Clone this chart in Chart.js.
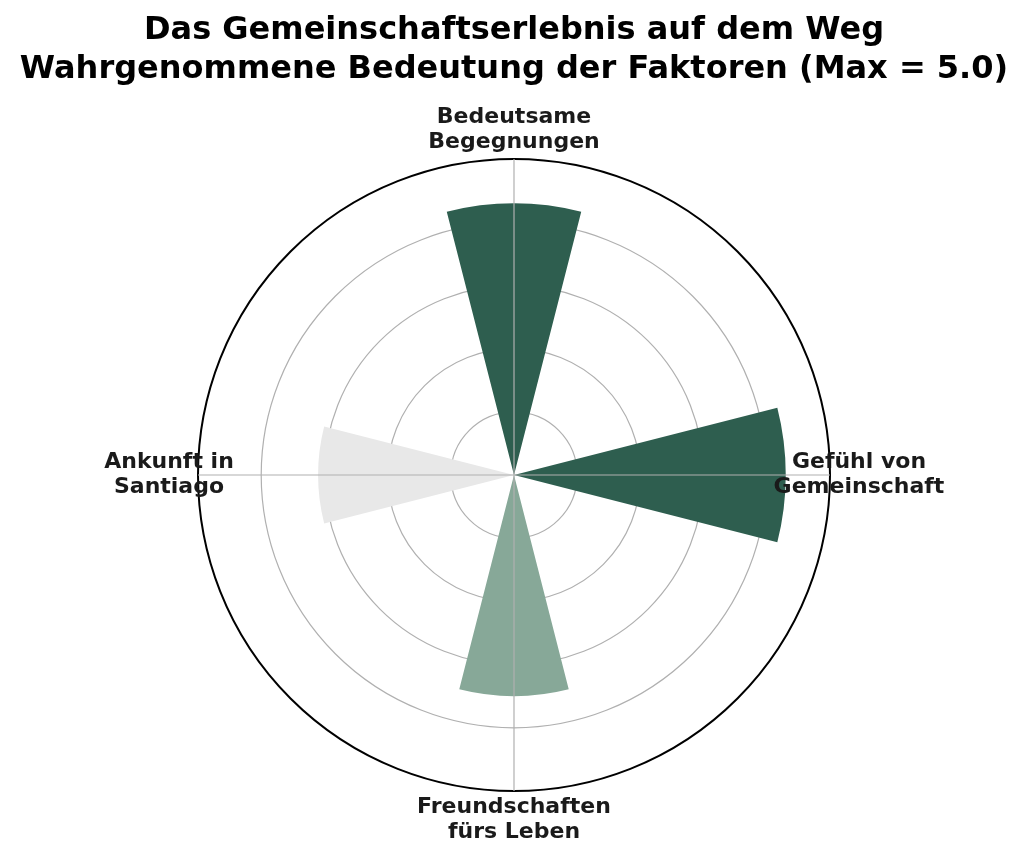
<!DOCTYPE html>
<html>
<head>
<meta charset="utf-8">
<script src="https://cdn.jsdelivr.net/npm/chart.js@4"></script>
<style>
  html, body { margin: 0; padding: 0; background: #fff; }
  #wrap { width: 1030px; height: 860px; }
</style>
</head>
<body>
<div id="wrap"><canvas id="myChart"></canvas></div>
<script>
// data
var categories = ['Bedeutsame Begegnungen', 'Gefühl von Gemeinschaft', 'Freundschaften fürs Leben', 'Ankunft in Santiago']
var labelLines = [['Bedeutsame', 'Begegnungen'], ['Gefühl von', 'Gemeinschaft'], ['Freundschaften', 'fürs Leben'], ['Ankunft in', 'Santiago']]
var values = [4.3, 4.3, 3.5, 3.1]
var barColors = ['#2e5e4f', '#2e5e4f', '#87a898', '#e8e8e8']
var rMax = 5
var tickStep = 1

// each bar is 0.5 rad wide, the rest of the quarter is empty
var barAngle = 0.5 * 180 / Math.PI
var gapAngle = 90 - barAngle

// build the polar area table: bar, empty, bar, empty ...
var chartLabels = [], chartValues = [], chartColors = []
categories.forEach(function (c, i) {
  chartLabels.push(c, '')
  chartValues.push(values[i], 0)
  chartColors.push(barColors[i], 'rgba(0,0,0,0)')
})

// spokes and category labels at the middle of each bar
var barLabels = {
  id: 'barLabels',
  afterDatasetsDraw: function (chart) {
    var ctx = chart.ctx
    var scale = chart.scales.r
    var meta = chart.getDatasetMeta(0)
    var outer = scale.getDistanceFromCenterForValue(rMax)
    ctx.save()
    ctx.strokeStyle = '#b0b0b0'
    ctx.lineWidth = 1.2
    categories.forEach(function (c, i) {
      var arc = meta.data[i * 2]
      var a = (arc.startAngle + arc.endAngle) / 2
      ctx.beginPath()
      ctx.moveTo(scale.xCenter, scale.yCenter)
      ctx.lineTo(scale.xCenter + Math.cos(a) * outer, scale.yCenter + Math.sin(a) * outer)
      ctx.stroke()
    })
    ctx.restore()
  },
  afterDraw: function (chart) {
    var ctx = chart.ctx
    var scale = chart.scales.r
    var meta = chart.getDatasetMeta(0)
    var dist = scale.getDistanceFromCenterForValue(rMax) + 29
    var lh = 25
    ctx.save()
    ctx.font = 'bold 22px "DejaVu Sans"'
    ctx.fillStyle = '#1a1a1a'
    ctx.textAlign = 'center'
    ctx.textBaseline = 'middle'
    labelLines.forEach(function (lines, i) {
      var arc = meta.data[i * 2]
      var a = (arc.startAngle + arc.endAngle) / 2
      var x = scale.xCenter + Math.cos(a) * dist
      var y = scale.yCenter + Math.sin(a) * dist
      var y0 = y - (lines.length - 1) * lh / 2
      lines.forEach(function (t, k) {
        ctx.fillText(t, x, y0 + k * lh)
      })
    })
    ctx.restore()
  }
}

var ctx = document.getElementById('myChart').getContext('2d')
var chart = new Chart(ctx, {
  type: 'polarArea',
  data: {
    labels: chartLabels,
    datasets: [{
      data: chartValues,
      backgroundColor: chartColors,
      borderWidth: 0,
      angle: function (c) { return c.dataIndex % 2 ? gapAngle : barAngle }
    }]
  },
  options: {
    responsive: true,
    maintainAspectRatio: false,
    animation: false,
    events: [],
    layout: { padding: { top: 0, left: 0, right: 2, bottom: 68 } },
    plugins: {
      legend: { display: false },
      tooltip: { enabled: false },
      title: {
        display: true,
        text: ['Das Gemeinschaftserlebnis auf dem Weg', 'Wahrgenommene Bedeutung der Faktoren (Max = 5.0)'],
        color: '#000',
        font: { family: '"DejaVu Sans"', size: 32, weight: 'bold', lineHeight: 1.22 },
        padding: { top: 11, bottom: 69 }
      }
    },
    scales: {
      r: {
        min: 0,
        max: rMax,
        startAngle: -barAngle / 2,
        ticks: { display: false, stepSize: tickStep, z: 1 },
        pointLabels: { display: false },
        angleLines: { display: false },
        grid: {
          circular: true,
          color: function (c) { return c.tick && c.tick.value === rMax ? '#000' : '#b0b0b0' },
          lineWidth: function (c) { return c.tick && c.tick.value === rMax ? 2 : 1.2 }
        }
      }
    }
  },
  plugins: [barLabels]
})
</script>
</body>
</html>
